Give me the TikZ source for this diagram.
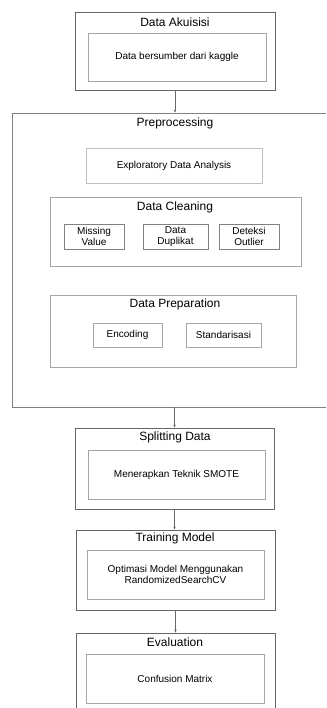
\documentclass[tikz,border=0pt]{standalone}
\usepackage{fontspec}
\setmainfont{Liberation Sans}
\usetikzlibrary{arrows.meta}
\usetikzlibrary{positioning}

\tikzset{
  outerbox/.style={draw=black!60, line width=0.8pt, rectangle, inner sep=0pt},
  innerbox/.style={draw=black!35, line width=0.6pt, rectangle, inner sep=0pt,
                   align=center, font=\fontsize{10}{11}\selectfont},
  titletext/.style={inner sep=0pt, font=\fontsize{12}{14}\selectfont},
  flow/.style={draw=black!60, line width=0.5pt, -{Stealth[length=3pt,width=2.5pt]}}
}

\begin{document}
\begin{tikzpicture}[x=1pt, y=-1pt]
  \clip (0,0) rectangle (326,708);
  \useasboundingbox (0,0) rectangle (326,708);

  % data akuisisi
  \node[outerbox, minimum width=200pt, minimum height=78pt] (akuisisi) at (175,51) {};
  \node[titletext] (akuisisiT) at (175,22) {Data Akuisisi};
  \node[innerbox, minimum width=178pt, minimum height=48pt] (kaggle) at (177,57) {Data bersumber dari kaggle};

  % preprocessing
  \node[outerbox, draw=black!50, minimum width=315pt, minimum height=294pt] (preproc) at (169.5,260) {};
  \node[titletext] (preprocT) at (175,123) {Preprocessing};
  \node[innerbox, draw=black!25, minimum width=176pt, minimum height=35pt] (eda) at (174,165.5) {Exploratory Data Analysis};

  \node[innerbox, minimum width=251pt, minimum height=69pt] (cleaning) at (175.5,231.5) {};
  \node[titletext] (cleaningT) at (175,207) {Data Cleaning};
  \node[innerbox, draw=black!50, minimum width=60pt, minimum height=25pt] (missing) at (94,236.5) {Missing\\Value};
  \node[innerbox, draw=black!50, minimum width=65pt, minimum height=25pt] (duplikat) at (175.5,236.5) {Data\\Duplikat};
  \node[innerbox, draw=black!50, minimum width=60pt, minimum height=25pt] (outlier) at (249,236.5) {Deteksi\\Outlier};

  \node[innerbox, minimum width=246pt, minimum height=72pt] (preparation) at (173,331) {};
  \node[titletext] (preparationT) at (175,304) {Data Preparation};
  \node[innerbox, minimum width=69pt, minimum height=24pt] (encoding) at (127.5,335) {Encoding};
  \node[innerbox, minimum width=75pt, minimum height=24pt] (standar) at (223.5,335) {Standarisasi};

  % splitting data
  \node[outerbox, minimum width=199pt, minimum height=81pt] (splitting) at (174.5,468.5) {};
  \node[titletext] (splittingT) at (175,437) {Splitting Data};
  \node[innerbox, minimum width=177pt, minimum height=49pt] (smote) at (176.5,474.5) {Menerapkan Teknik SMOTE};

  % training model
  \node[outerbox, minimum width=199pt, minimum height=80pt] (training) at (175.5,570) {};
  \node[titletext] (trainingT) at (175,538) {Training Model};
  \node[innerbox, minimum width=177pt, minimum height=49pt] (search) at (175.5,574.5) {Optimasi Model Menggunakan\\RandomizedSearchCV};

  % evaluation
  \node[outerbox, minimum width=199pt, minimum height=79pt] (evaluation) at (175.5,672.5) {};
  \node[titletext] (evaluationT) at (175,642) {Evaluation};
  \node[innerbox, minimum width=178pt, minimum height=49pt] (matrix) at (175,678.5) {Confusion Matrix};

  % alur
  \draw[flow] (akuisisi.south) -- (akuisisi.south |- preproc.north);
  \draw[flow] (splitting.north |- preproc.south) -- (splitting.north);
  \draw[flow] (splitting.south) -- (splitting.south |- training.north);
  \draw[flow] (training.south) -- (training.south |- evaluation.north);
\end{tikzpicture}
\end{document}
